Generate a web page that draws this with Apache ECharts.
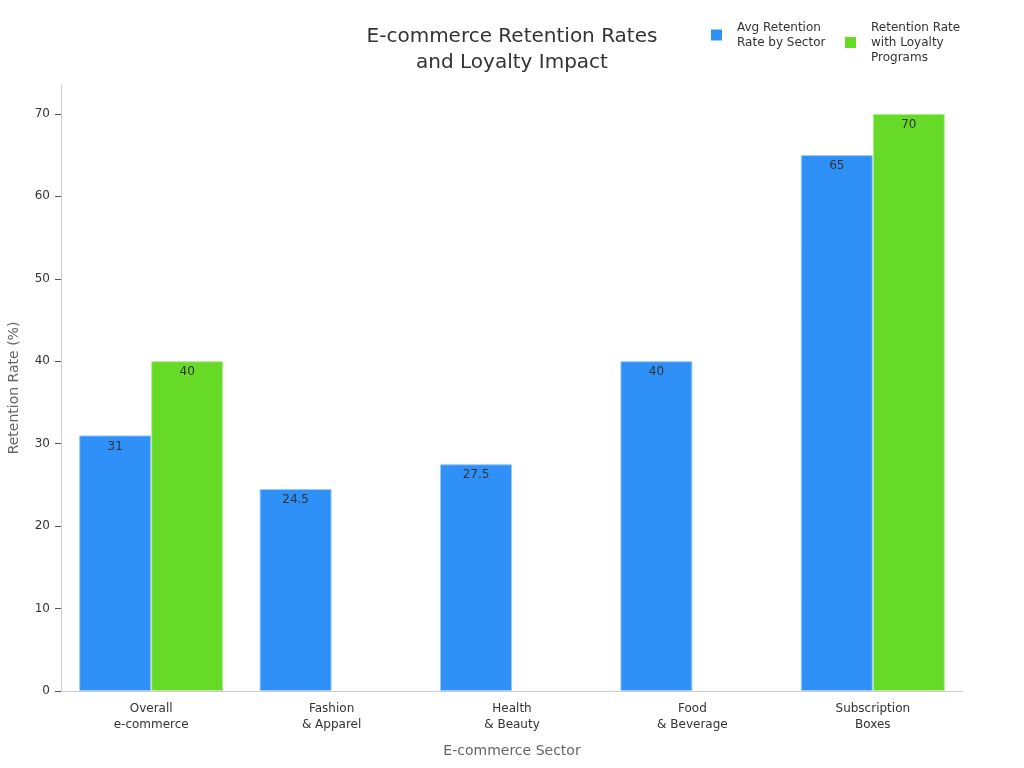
<!DOCTYPE html>
<html>
<head>
<meta charset="utf-8">
<script src="https://cdn.jsdelivr.net/npm/echarts@6/dist/echarts.min.js"></script>
<style>
  html, body { margin: 0; padding: 0; background: #fff; }
  #main { width: 1024px; height: 768px; }
</style>
</head>
<body>
<div id="main"></div>
<script>
var sectors = ['Overall\ne-commerce', 'Fashion\n& Apparel', 'Health\n& Beauty', 'Food\n& Beverage', 'Subscription\nBoxes'];
var avgRetention = [31, 24.5, 27.5, 40, 65];
var loyaltyRetention = [40, null, null, null, 70];
var seriesNames = ['Avg Retention\nRate by Sector', 'Retention Rate\nwith Loyalty\nPrograms'];

var myChart = echarts.init(document.getElementById('main'));

// one legend box per item so both texts hang from the same top line
var legendText = { fontSize: 12, color: '#333', lineHeight: 15, padding: [0, 0, 0, 10] };

var option = {
    textStyle: { fontFamily: 'DejaVu Sans' },
    title: {
        left: 'center',
        top: 19,
        text: 'E-commerce Retention Rates\nand Loyalty Impact',
        textStyle: { fontSize: 20, fontWeight: 'normal', color: '#333', lineHeight: 26, fontFamily: 'DejaVu Sans' }
    },
    legend: [{
        left: 706,
        top: 15,
        itemWidth: 11,
        itemHeight: 11,
        icon: 'rect',
        itemStyle: { borderWidth: 0 },
        textStyle: legendText,
        data: [seriesNames[0]]
    }, {
        left: 840,
        top: 15,
        itemWidth: 11,
        itemHeight: 11,
        icon: 'rect',
        itemStyle: { borderWidth: 0 },
        textStyle: legendText,
        data: [seriesNames[1]]
    }],
    grid: { left: 61, right: 61, top: 85, bottom: 77, outerBoundsMode: 'none' },
    xAxis: {
        type: 'category',
        data: sectors,
        name: 'E-commerce Sector',
        nameLocation: 'middle',
        nameGap: 53,
        nameTextStyle: { fontSize: 14, color: '#666' },
        axisLine: { lineStyle: { color: '#ccc' } },
        axisTick: { alignWithLabel: true, length: 6, lineStyle: { color: '#555' } },
        axisLabel: { fontSize: 12, color: '#333', lineHeight: 16, margin: 10 }
    },
    yAxis: {
        type: 'value',
        min: 0,
        max: 73.5,
        interval: 10,
        name: 'Retention Rate (%)',
        nameLocation: 'middle',
        nameGap: 40,
        nameTextStyle: { fontSize: 14, color: '#666' },
        splitLine: { show: false },
        axisLine: { show: true, lineStyle: { color: '#ccc' } },
        axisTick: { show: true, length: 6, lineStyle: { color: '#555' } },
        axisLabel: { fontSize: 12, color: '#333', margin: 11, showMaxLabel: false }
    },
    series: [{
        name: seriesNames[0],
        type: 'bar',
        data: avgRetention,
        barWidth: 72,
        barGap: 0,
        itemStyle: { color: '#2f91f7', borderColor: '#9ccbfb', borderWidth: 1 },
        label: { show: true, position: 'insideTop', color: '#333', fontSize: 12 }
    }, {
        name: seriesNames[1],
        type: 'bar',
        data: loyaltyRetention,
        barWidth: 72,
        barGap: 0,
        itemStyle: { color: '#66da27', borderColor: '#b3ec93', borderWidth: 1 },
        label: { show: true, position: 'insideTop', color: '#333', fontSize: 12 }
    }]
};

myChart.setOption(option);
window.onresize = function () {
    myChart.resize();
};
</script>
</body>
</html>
